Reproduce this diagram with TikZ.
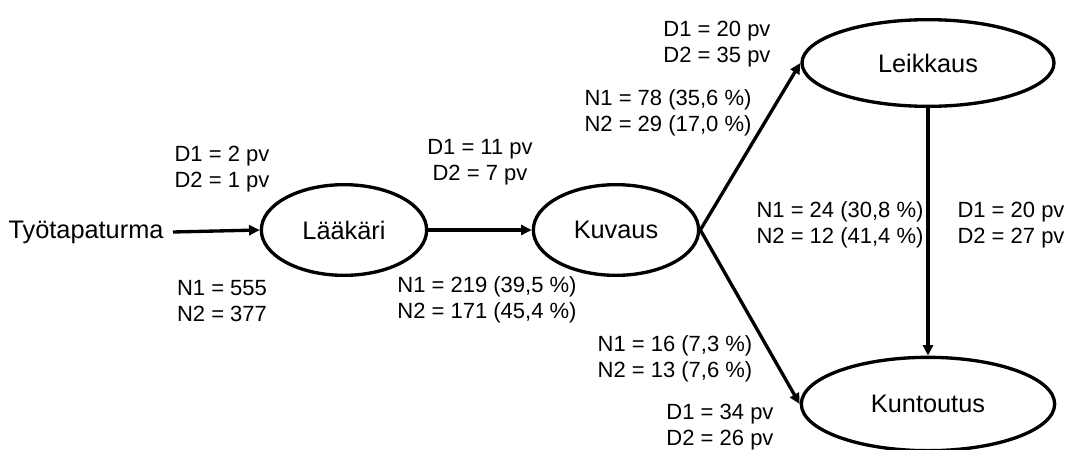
\documentclass[tikz,border=0pt]{standalone}
\usepackage{fontspec}
\setmainfont{Liberation Sans}
\usepackage{xcolor}
\usepackage{tikz}
\usetikzlibrary{arrows.meta,shapes.geometric}
\definecolor{ink}{HTML}{000000}
\definecolor{paper}{HTML}{FFFFFF}
\tikzset{
  flow/.style={draw=ink, line width=2.5pt, -{Triangle[length=8pt,width=7.5pt]}},
  stage/.style={ellipse, draw=ink, line width=2.5pt, inner sep=0pt, fill=paper,
    font=\fontsize{19}{22}\selectfont},
  start/.style={inner sep=0pt, font=\fontsize{19}{22}\selectfont},
  lab/.style={align=center, inner sep=0pt, text=ink, font=\fontsize{16.5}{19.5}\selectfont},
}

\begin{document}
\begin{tikzpicture}[x=0.75pt, y=-0.75pt]
  \useasboundingbox (0,0) rectangle (1068,450);
  \clip (0,0) rectangle (1068,450);
  % stages
  \node[start] (tyo) at (86,232) {Työtapaturma};
  \node[stage, minimum width=124pt, minimum height=68pt] (laak) at (344,230) {Lääkäri};
  \node[stage, minimum width=124pt, minimum height=68pt] (kuv) at (616,230) {Kuvaus};
  \node[stage, minimum width=189pt, minimum height=65pt] (leik) at (928,63) {Leikkaus};
  \node[stage, minimum width=190pt, minimum height=70pt] (kunt) at (928,404) {Kuntoutus};
  \coordinate (tyoend) at (173,232);
  % flows
  \draw[flow] (tyoend) -- (laak.west);
  \draw[flow] (laak.east) -- (kuv.west);
  \draw[flow] (kuv.east) -- (leik.west);
  \draw[flow] (kuv.east) -- (kunt.west);
  \draw[flow] (leik.south) -- (kunt.north);
  % durations and counts
  \node[lab] (d-laak) at (222,169) {D1 = 2 pv\\D2 = 1 pv};
  \node[lab] (n-laak) at (222,301) {N1 = 555\\N2 = 377};
  \node[lab] (d-kuv) at (480,162) {D1 = 11 pv\\D2 = 7 pv};
  \node[lab] (n-kuv) at (487,300) {N1 = 219 (39,5 \%)\\N2 = 171 (45,4 \%)};
  \node[lab] (d-leik) at (717,44) {D1 = 20 pv\\D2 = 35 pv};
  \node[lab] (n-leik) at (668,113) {N1 = 78 (35,6 \%)\\N2 = 29 (17,0 \%)};
  \node[lab] (n-lk) at (840,225) {N1 = 24 (30,8 \%)\\N2 = 12 (41,4 \%)};
  \node[lab] (d-lk) at (1011,225) {D1 = 20 pv\\D2 = 27 pv};
  \node[lab] (n-kunt) at (675,359) {N1 = 16 (7,3 \%)\\N2 = 13 (7,6 \%)};
  \node[lab] (d-kunt) at (720,427) {D1 = 34 pv\\D2 = 26 pv};
\end{tikzpicture}
\end{document}
